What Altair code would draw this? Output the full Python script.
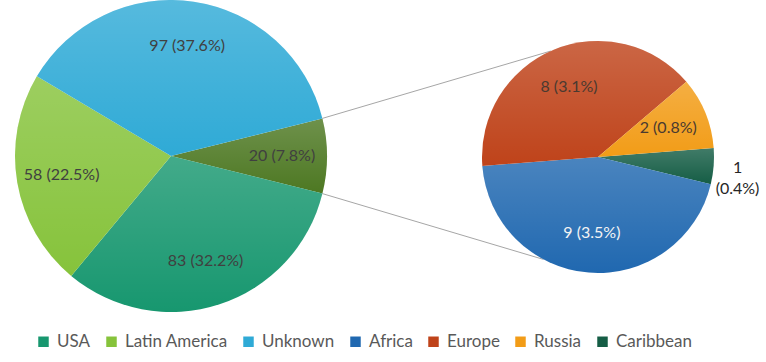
import math
import altair as alt
import pandas as pd

# ---- data ----
main_cats = ["Other", "USA", "Latin America", "Unknown"]
main_vals = [20, 83, 58, 97]
sec_cats = ["Caribbean", "Africa", "Europe", "Russia"]
sec_vals = [1, 9, 8, 2]
legend_order = ["USA", "Latin America", "Unknown", "Africa", "Europe", "Russia", "Caribbean"]
color_map = {
    "USA": "#17976f",
    "Latin America": "#86c33b",
    "Unknown": "#2faad6",
    "Africa": "#2068b0",
    "Europe": "#bf431a",
    "Russia": "#f29c17",
    "Caribbean": "#155d45",
    "Other": "#4d7822",
}

total = sum(main_vals)
sec_total = sum(sec_vals)


def label(v):
    return f"{v} ({v / total * 100:.1f}%)"


main_df = pd.DataFrame({
    "cat": main_cats,
    "value": main_vals,
    "idx": list(range(len(main_cats))),
    "label": [label(v) for v in main_vals],
})
sec_df = pd.DataFrame({
    "cat": sec_cats,
    "value": sec_vals,
    "idx": list(range(len(sec_cats))),
    "inner": ["" if v == min(sec_vals) else label(v) for v in sec_vals],
    "outer": [f"{v}\n({v / total * 100:.1f}%)" if v == min(sec_vals) else "" for v in sec_vals],
})

# ---- layout (pixels) ----
MX, MY, MR = 171, 156, 156
SX, SY, SR = 598, 157, 116
TWO_PI = 2 * math.pi
main_span = main_vals[0] / total * TWO_PI
main_start = math.pi / 2 - main_span / 2
sec_start = math.radians(85.6)

FONT = "Lato"
dom = alt.Scale(domain=legend_order + ["Other"],
                range=[color_map[c] for c in legend_order + ["Other"]])
legend = alt.Legend(
    values=legend_order, orient="none", legendX=35, legendY=333,
    direction="horizontal", title=None, symbolType="square", symbolSize=110,
    symbolStrokeWidth=0, labelFont=FONT, labelFontSize=17, labelColor="#595959",
    columnPadding=12, labelOffset=5, padding=0,
)
shine = alt.LinearGradient(
    gradient="linear",
    stops=[alt.GradientStop(color="rgba(255,255,255,0.19)", offset=0),
           alt.GradientStop(color="rgba(255,255,255,0)", offset=1)],
    x1=0, x2=0, y1=0, y2=1,
)


def theta_enc(start, dtotal):
    return alt.Theta("value:Q", stack=True,
                     scale=alt.Scale(domain=[0, dtotal], range=[start, start + TWO_PI],
                                     zero=True, nice=False))


def pie(df, cx, cy, r, start, dtotal):
    base = alt.Chart(df)
    arcs = base.mark_arc(radius=r, stroke=None).encode(
        theta=theta_enc(start, dtotal),
        color=alt.Color("cat:N", scale=dom, legend=legend),
        order=alt.Order("idx:Q"),
        x=alt.value(cx), y=alt.value(cy),
    )
    gloss = base.mark_arc(radius=r, fill=shine, stroke=None).encode(
        theta=theta_enc(start, dtotal),
        order=alt.Order("idx:Q"),
        x=alt.value(cx), y=alt.value(cy),
    )
    return base, arcs, gloss


mb, m_arcs, m_gloss = pie(main_df, MX, MY, MR, main_start, total)
m_text = mb.mark_text(radius=111, font=FONT, fontSize=16, color="#404040").encode(
    theta=theta_enc(main_start, total), order=alt.Order("idx:Q"),
    text="label:N", x=alt.value(MX), y=alt.value(MY),
)
main_layer = alt.layer(m_arcs, m_gloss, m_text)

sb, s_arcs, s_gloss = pie(sec_df, SX, SY, SR, sec_start, sec_total)
s_text = sb.mark_text(radius=76, font=FONT, fontSize=16).encode(
    theta=theta_enc(sec_start, sec_total), order=alt.Order("idx:Q"),
    text="inner:N", x=alt.value(SX), y=alt.value(SY),
    color=alt.condition("datum.cat == 'Africa'", alt.value("#f4f4f4"), alt.value("#4a3a30")),
)
s_out = sb.mark_text(radius=140, font=FONT, fontSize=16, color="#262626",
                     lineBreak="\n", lineHeight=21).encode(
    theta=theta_enc(sec_start, sec_total), order=alt.Order("idx:Q"),
    text="outer:N", x=alt.value(SX), y=alt.value(SY),
)
sec_layer = alt.layer(s_arcs, s_gloss, s_text, s_out)

# connector lines from the "Other" slice edges to the secondary pie
a1, a2 = main_start, main_start + main_span
b1, b2 = math.radians(336), math.radians(208)
lines_df = pd.DataFrame({
    "x": [MX + MR * math.sin(a1), MX + MR * math.sin(a2)],
    "y": [MY - MR * math.cos(a1), MY - MR * math.cos(a2)],
    "x2": [SX + SR * math.sin(b1), SX + SR * math.sin(b2)],
    "y2": [SY - SR * math.cos(b1), SY - SR * math.cos(b2)],
})
lines = alt.Chart(lines_df).mark_rule(color="#a6a6a6", strokeWidth=1).encode(
    x=alt.X("x:Q", scale=None), y=alt.Y("y:Q", scale=None),
    x2="x2:Q", y2="y2:Q",
)

chart = alt.layer(lines, main_layer, sec_layer).resolve_scale(
    theta="independent"
).properties(
    width=766, height=362, autosize=alt.AutoSizeParams(type="none"), padding=0,
    background="white",
).configure_view(stroke=None)

chart.save("out.html", embed_options={"renderer": "svg", "actions": False})
